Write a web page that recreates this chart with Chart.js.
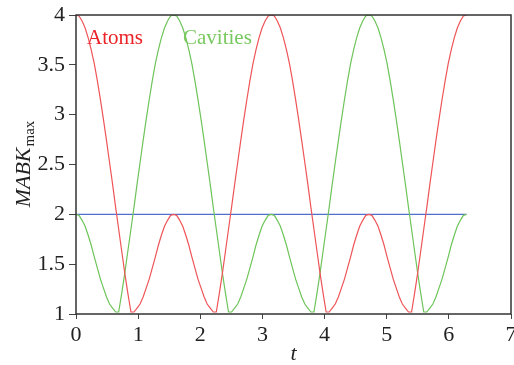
<!DOCTYPE html>
<html>
<head>
<meta charset="utf-8">
<script src="https://cdn.jsdelivr.net/npm/chart.js@4.4.1/dist/chart.umd.min.js"></script>
<style>
  html, body { margin: 0; padding: 0; background: #fff; }
  canvas { display: block; }
</style>
</head>
<body>
<canvas id="mabk-chart" width="514" height="365"></canvas>
<script>
// time samples (t from 0 to 2*pi)
const tValues = [
  0, 0.049, 0.098, 0.147, 0.196, 0.245, 0.295, 0.344, 0.393, 0.442, 0.491, 0.540, 0.589, 0.638, 0.687, 0.736,
  0.785, 0.834, 0.884, 0.933, 0.982, 1.031, 1.080, 1.129, 1.178, 1.227, 1.276, 1.325, 1.374, 1.424, 1.473, 1.522,
  1.571, 1.620, 1.669, 1.718, 1.767, 1.816, 1.865, 1.914, 1.963, 2.013, 2.062, 2.111, 2.160, 2.209, 2.258, 2.307,
  2.356, 2.405, 2.454, 2.503, 2.553, 2.602, 2.651, 2.700, 2.749, 2.798, 2.847, 2.896, 2.945, 2.994, 3.043, 3.093,
  3.142, 3.191, 3.240, 3.289, 3.338, 3.387, 3.436, 3.485, 3.534, 3.583, 3.632, 3.682, 3.731, 3.780, 3.829, 3.878,
  3.927, 3.976, 4.025, 4.074, 4.123, 4.172, 4.222, 4.271, 4.320, 4.369, 4.418, 4.467, 4.516, 4.565, 4.614, 4.663,
  4.712, 4.761, 4.811, 4.860, 4.909, 4.958, 5.007, 5.056, 5.105, 5.154, 5.203, 5.252, 5.301, 5.351, 5.400, 5.449,
  5.498, 5.547, 5.596, 5.645, 5.694, 5.743, 5.792, 5.841, 5.890, 5.940, 5.989, 6.038, 6.087, 6.136, 6.185, 6.234,
  6.283
];

// MABK max of the atoms (red)
const atoms = [
  4.00, 3.99, 3.94, 3.87, 3.77, 3.65, 3.51, 3.34, 3.15, 2.95, 2.74, 2.52, 2.30, 2.07, 1.85, 1.63, 1.41,
  1.21, 1.02, 1.02, 1.06, 1.10, 1.17, 1.26, 1.35, 1.46, 1.57, 1.69, 1.79, 1.88, 1.94, 1.99, 2.00,
  1.99, 1.94, 1.88, 1.79, 1.69, 1.57, 1.46, 1.35, 1.26, 1.17, 1.10, 1.06, 1.02, 1.02, 1.21, 1.41,
  1.63, 1.85, 2.07, 2.30, 2.52, 2.74, 2.95, 3.15, 3.34, 3.51, 3.65, 3.77, 3.87, 3.94, 3.99, 4.00,
  3.99, 3.94, 3.87, 3.77, 3.65, 3.51, 3.34, 3.15, 2.95, 2.74, 2.52, 2.30, 2.07, 1.85, 1.63, 1.41,
  1.21, 1.02, 1.02, 1.06, 1.10, 1.17, 1.26, 1.35, 1.46, 1.57, 1.69, 1.79, 1.88, 1.94, 1.99, 2.00,
  1.99, 1.94, 1.88, 1.79, 1.69, 1.57, 1.46, 1.35, 1.26, 1.17, 1.10, 1.06, 1.02, 1.02, 1.21, 1.41,
  1.63, 1.85, 2.07, 2.30, 2.52, 2.74, 2.95, 3.15, 3.34, 3.51, 3.65, 3.77, 3.87, 3.94, 3.99, 4.00
];

// MABK max of the cavities (green)
const cavities = [
  2.00, 1.99, 1.94, 1.88, 1.79, 1.69, 1.57, 1.46, 1.35, 1.26, 1.17, 1.10, 1.06, 1.02, 1.02, 1.21, 1.41,
  1.63, 1.85, 2.07, 2.30, 2.52, 2.74, 2.95, 3.15, 3.34, 3.51, 3.65, 3.77, 3.87, 3.94, 3.99, 4.00,
  3.99, 3.94, 3.87, 3.77, 3.65, 3.51, 3.34, 3.15, 2.95, 2.74, 2.52, 2.30, 2.07, 1.85, 1.63, 1.41,
  1.21, 1.02, 1.02, 1.06, 1.10, 1.17, 1.26, 1.35, 1.46, 1.57, 1.69, 1.79, 1.88, 1.94, 1.99, 2.00,
  1.99, 1.94, 1.88, 1.79, 1.69, 1.57, 1.46, 1.35, 1.26, 1.17, 1.10, 1.06, 1.02, 1.02, 1.21, 1.41,
  1.63, 1.85, 2.07, 2.30, 2.52, 2.74, 2.95, 3.15, 3.34, 3.51, 3.65, 3.77, 3.87, 3.94, 3.99, 4.00,
  3.99, 3.94, 3.87, 3.77, 3.65, 3.51, 3.34, 3.15, 2.95, 2.74, 2.52, 2.30, 2.07, 1.85, 1.63, 1.41,
  1.21, 1.02, 1.02, 1.06, 1.10, 1.17, 1.26, 1.35, 1.46, 1.57, 1.69, 1.79, 1.88, 1.94, 1.99, 2.00
];

// flat reference line
const refT = [0, 6.283];
const refValues = [2, 2];

const seriesNames = ["Atoms", "Cavities"];
const xTicks = [0, 1, 2, 3, 4, 5, 6, 7];
const yTicks = [1, 1.5, 2, 2.5, 3, 3.5, 4];

const serif = "'Liberation Serif', 'Times New Roman', serif";
const axisColor = "#222";
const redLine = "rgb(238, 85, 88)";
const greenLine = "rgb(110, 196, 90)";
const blueLine = "rgb(80, 110, 205)";

Chart.defaults.font.family = serif;

const toPoints = (xs, ys) => xs.map((x, i) => ({ x: x, y: ys[i] }));

// y title with subscript, legend words and the frame box
const extras = {
  id: "extras",
  afterDraw(chart) {
    const { ctx, chartArea: a } = chart;
    ctx.save();
    ctx.strokeStyle = "#333";
    ctx.lineWidth = 1.5;
    ctx.strokeRect(a.left, a.top, a.right - a.left, a.bottom - a.top);

    ctx.font = "21px " + serif;
    ctx.textBaseline = "alphabetic";
    ctx.textAlign = "left";
    ctx.fillStyle = "rgb(235, 35, 40)";
    ctx.fillText(seriesNames[0], 87, 44);
    ctx.fillStyle = "rgb(120, 200, 95)";
    ctx.fillText(seriesNames[1], 183, 44);

    // MABK_max, rotated
    ctx.translate(30, (a.top + a.bottom) / 2);
    ctx.rotate(-Math.PI / 2);
    ctx.fillStyle = axisColor;
    ctx.font = "italic 22px " + serif;
    const w1 = ctx.measureText("MABK").width;
    ctx.font = "15px " + serif;
    const w2 = ctx.measureText("max").width;
    const x0 = -(w1 + w2) / 2;
    ctx.font = "italic 22px " + serif;
    ctx.fillText("MABK", x0, 0);
    ctx.font = "15px " + serif;
    ctx.fillText("max", x0 + w1 + 1, 4);
    ctx.restore();
  },
};

const canvas = document.getElementById("mabk-chart");

let mabkChart = new Chart(canvas, {
  type: "line",
  data: {
    datasets: [
      {
        label: seriesNames[0],
        data: toPoints(tValues, atoms),
        borderColor: redLine,
        borderWidth: 1.2,
        pointRadius: 0,
        tension: 0,
      },
      {
        label: seriesNames[1],
        data: toPoints(tValues, cavities),
        borderColor: greenLine,
        borderWidth: 1.2,
        pointRadius: 0,
        tension: 0,
      },
      {
        label: "ref",
        data: toPoints(refT, refValues),
        borderColor: blueLine,
        borderWidth: 1.2,
        pointRadius: 0,
      },
    ],
  },
  options: {
    responsive: false,
    animation: false,
    events: [],
    layout: { padding: { top: 15, right: 3, left: 0, bottom: 0 } },
    plugins: {
      legend: { display: false },
      tooltip: { enabled: false },
    },
    scales: {
      x: {
        type: "linear",
        min: 0,
        max: 7,
        afterBuildTicks: (s) => {
          s.ticks = xTicks.map((v) => ({ value: v }));
        },
        afterFit: (s) => {
          s.height = 51;
          s.paddingLeft = 0;
          s.paddingRight = 0;
        },
        ticks: {
          color: axisColor,
          font: { size: 22 },
          padding: 3,
          maxRotation: 0,
          callback: (v) => String(v),
        },
        grid: { drawOnChartArea: false, tickLength: 5, color: "#444" },
        border: { display: false },
        title: {
          display: true,
          text: "t",
          color: axisColor,
          padding: 0,
          font: { size: 22, style: "italic", lineHeight: 1 },
        },
      },
      y: {
        min: 1,
        max: 4,
        afterBuildTicks: (s) => {
          s.ticks = yTicks.map((v) => ({ value: v }));
        },
        afterFit: (s) => {
          s.width = 76;
          s.paddingTop = 0;
          s.paddingBottom = 0;
        },
        ticks: {
          color: axisColor,
          font: { size: 22 },
          padding: 4,
          callback: (v) => String(v),
        },
        grid: { drawOnChartArea: false, tickLength: 7, color: "#444" },
        border: { display: false },
      },
    },
  },
  plugins: [extras],
});
</script>
</body>
</html>
